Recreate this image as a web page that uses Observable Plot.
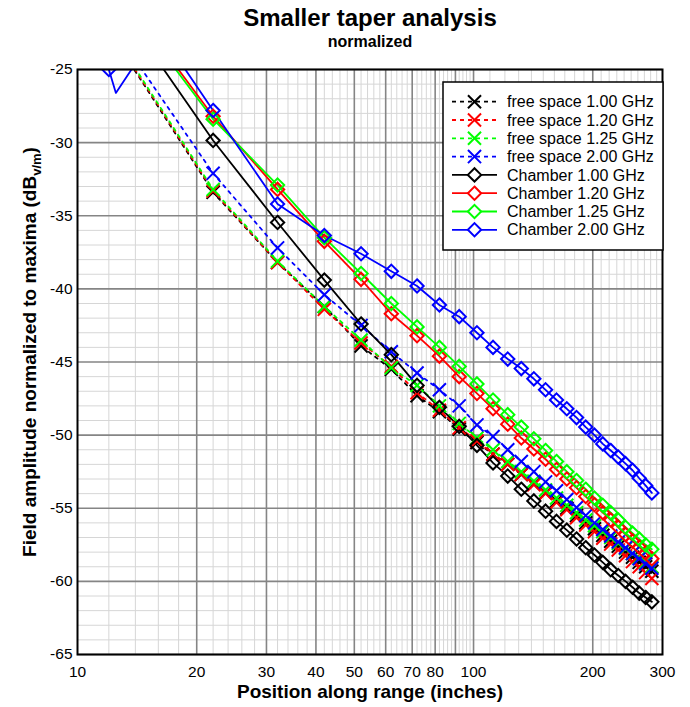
<!DOCTYPE html>
<html><head><meta charset="utf-8">
<script src="https://cdn.jsdelivr.net/npm/d3@7"></script>
<script src="https://cdn.jsdelivr.net/npm/@observablehq/plot@0.6"></script>
<style>
body{margin:0;background:#fff;font-family:"Liberation Sans",Arial,sans-serif;}
#wrap{position:relative;width:690px;height:707px;overflow:hidden;}
.ttl{position:absolute;left:370px;transform:translateX(-50%);font-weight:bold;color:#000;white-space:nowrap;}
</style></head><body>
<div id="wrap">
<div class="ttl" style="top:6px;font-size:24px;line-height:24px">Smaller taper analysis</div>
<div class="ttl" style="top:34px;font-size:16px;line-height:16px">normalized</div>
<div id="chart" style="position:absolute;left:0;top:55px"></div>
</div>
<script>
// positions along range (inches) where each series was sampled / marked
const positions = [12,22,32,42,52,62,72,82,92,102,112,122,132,142,152,162,172,182,192,202,212,222,232,242,252,262,272,282];

const freeSpace100 = [-22.3,-33.4,-38.2,-41.2,-43.9,-45.5,-47.3,-48.4,-49.6,-50.5,-51.3,-52.0,-52.7,-53.35,-53.95,-54.5,-55.0,-55.5,-56.0,-56.4,-56.85,-57.25,-57.6,-58.0,-58.35,-58.7,-59.0,-59.3];
const freeSpace120 = [-22.2,-33.3,-38.2,-41.4,-43.7,-45.3,-47.1,-48.3,-49.5,-50.4,-51.3,-52.0,-52.7,-53.4,-54.0,-54.6,-55.1,-55.65,-56.15,-56.6,-57.05,-57.45,-57.85,-58.25,-58.65,-59.0,-59.4,-59.8];
const freeSpace125 = [-22.1,-33.2,-38.1,-41.2,-43.5,-45.4,-46.6,-48.0,-49.2,-50.2,-51.0,-51.8,-52.5,-53.15,-53.75,-54.3,-54.8,-55.3,-55.8,-56.2,-56.6,-57.0,-57.4,-57.75,-58.1,-58.4,-58.7,-59.0];
const freeSpace200 = [-21.7,-32.1,-37.2,-40.4,-42.5,-44.3,-45.75,-46.9,-48.0,-49.3,-50.1,-51.0,-51.8,-52.5,-53.2,-53.8,-54.4,-54.95,-55.5,-56.0,-56.45,-56.9,-57.3,-57.7,-58.1,-58.45,-58.8,-59.1];
const chamber100 = [-19.6,-29.85,-35.46,-39.4,-42.4,-44.5,-46.6,-48.1,-49.4,-50.7,-51.9,-52.8,-53.7,-54.5,-55.2,-55.9,-56.5,-57.1,-57.7,-58.2,-58.7,-59.2,-59.6,-60.0,-60.4,-60.8,-61.1,-61.4];
const chamber120 = [-18.6,-28.2,-33.2,-36.75,-39.35,-41.7,-43.2,-44.6,-46.0,-47.15,-48.2,-49.25,-50.2,-50.95,-51.65,-52.35,-53.0,-53.6,-54.2,-54.75,-55.3,-55.8,-56.3,-56.8,-57.25,-57.65,-58.05,-58.45];
const chamber125 = [-18.9,-28.4,-32.9,-36.5,-38.95,-41.0,-42.6,-44.0,-45.3,-46.5,-47.6,-48.6,-49.45,-50.25,-51.05,-51.8,-52.5,-53.1,-53.7,-54.3,-54.8,-55.3,-55.8,-56.3,-56.7,-57.1,-57.5,-57.8];
const chamber200 = [-25.0,-27.8,-34.2,-36.35,-37.6,-38.8,-39.8,-41.1,-41.9,-43.0,-44.0,-44.8,-45.45,-46.15,-46.9,-47.6,-48.2,-48.8,-49.45,-50.0,-50.6,-51.05,-51.5,-51.95,-52.4,-52.95,-53.45,-53.95];
// extra (unmarked) trace points of chamber 2.00 GHz between 12 and 22 inches
const chamber200LeadInX = [12.5,14,18.5];
const chamber200LeadInY = [-26.6,-24.6,-24.8];

const seriesLabels = ["free space 1.00 GHz","free space 1.20 GHz","free space 1.25 GHz","free space 2.00 GHz",
                      "Chamber 1.00 GHz","Chamber 1.20 GHz","Chamber 1.25 GHz","Chamber 2.00 GHz"];
const seriesValues = [freeSpace100,freeSpace120,freeSpace125,freeSpace200,chamber100,chamber120,chamber125,chamber200];
const seriesColors = ["#000000","#ff0000","#00ff00","#0000ff","#000000","#ff0000","#00ff00","#0000ff"];

const xTickValues = [10,20,30,40,50,60,70,80,100,200,300];
const xMajorGrid = [20,30,40,50,60,70,80,90,100,200];
const xMinorGrid = [12,14,16,18,22,24,26,28,32,34,36,38,42,44,46,48,52,54,56,58,62,64,66,68,72,74,76,78,82,84,86,88,92,94,96,98,
                    110,120,130,140,150,160,170,180,190,210,220,230,240,250,260,270,280,290];
const yTickValues = [-65,-60,-55,-50,-45,-40,-35,-30,-25];
const yMinorGrid = [-64,-63,-62,-61,-59,-58,-57,-56,-54,-53,-52,-51,-49,-48,-47,-46,-44,-43,-42,-41,-39,-38,-37,-36,-34,-33,-32,-31,-29,-28,-27,-26];

const series = seriesLabels.map((label,i)=>({
  label, color: seriesColors[i], free: i < 4,
  points: positions.map((p,j)=>({x:p, y:seriesValues[i][j]}))
}));
// chamber 2.00 GHz trace includes lead-in points
series[7].linePoints = [series[7].points[0],
  ...chamber200LeadInX.map((x,k)=>({x, y:chamber200LeadInY[k]})),
  ...series[7].points.slice(1)];

const marks = [
  Plot.ruleX(xMinorGrid,{stroke:"#d6d6d6",strokeWidth:1}),
  Plot.ruleY(yMinorGrid,{stroke:"#d6d6d6",strokeWidth:1}),
  Plot.ruleX(xMajorGrid,{stroke:"#858585",strokeWidth:1.6}),
  Plot.ruleY(yTickValues,{stroke:"#858585",strokeWidth:1.6})
];
series.forEach(s=>{
  marks.push(Plot.line(s.linePoints || s.points,{x:"x",y:"y",stroke:s.color,strokeWidth:1.8,
    strokeDasharray: s.free ? "3,5" : null, clip:true}));
});
series.forEach(s=>{
  marks.push(Plot.dot(s.points,{x:"x",y:"y",symbol: s.free ? "times" : "diamond2", r:6,
    stroke:s.color, strokeWidth:2, fill:"none", clip:true}));
});
marks.push(Plot.frame({stroke:"#000",strokeWidth:2}));

const chart = Plot.plot({
  width:690, height:652,
  marginTop:14, marginBottom:53, marginLeft:77, marginRight:28,
  style:{fontFamily:'"Liberation Sans",Arial,sans-serif', fontSize:"15.5px", background:"white", color:"#000", overflow:"visible"},
  x:{type:"log", domain:[10,300], ticks:xTickValues, tickFormat:d=>String(d), tickSize:0, tickPadding:11, label:null},
  y:{domain:[-65,-25], ticks:yTickValues, tickFormat:d=>String(d), tickSize:0, tickPadding:5, label:null},
  marks
});
document.getElementById("chart").appendChild(chart);

const svg = d3.select(chart);
svg.append("text").attr("x",370).attr("y",643).attr("text-anchor","middle")
  .attr("font-weight","bold").attr("font-size",19).attr("fill","#000").text("Position along range (inches)");
const yl = svg.append("text").attr("transform","translate(36,297) rotate(-90)").attr("text-anchor","middle")
  .attr("font-weight","bold").attr("font-size",19).attr("fill","#000");
yl.append("tspan").text("Field amplitude normalized to maxima (dB");
yl.append("tspan").attr("font-size",13).attr("dy",5).text("v/m");
yl.append("tspan").attr("dy",-5).text(")");

const lg = svg.append("g").attr("text-anchor","start");
lg.append("rect").attr("x",443).attr("y",27).attr("width",220).attr("height",168)
  .attr("fill","white").attr("stroke","#000").attr("stroke-width",1.5);
series.forEach((s,i)=>{
  const cy = 46.7 + i*18.3;
  lg.append("line").attr("x1",452).attr("x2",497).attr("y1",cy).attr("y2",cy)
    .attr("stroke",s.color).attr("stroke-width",1.8).attr("stroke-dasharray", s.free ? "4,4" : null);
  lg.append("path").attr("d", d3.symbol(s.free ? d3.symbolTimes : d3.symbolDiamond2, Math.PI*36)())
    .attr("transform",`translate(474.5,${cy})`).attr("fill", s.free ? "none" : "white")
    .attr("stroke",s.color).attr("stroke-width",2);
  lg.append("text").attr("x",507).attr("y",cy).attr("dy","0.35em").attr("text-anchor","start")
    .attr("font-size",16).attr("fill","#000").text(s.label);
});
</script>
</body></html>
